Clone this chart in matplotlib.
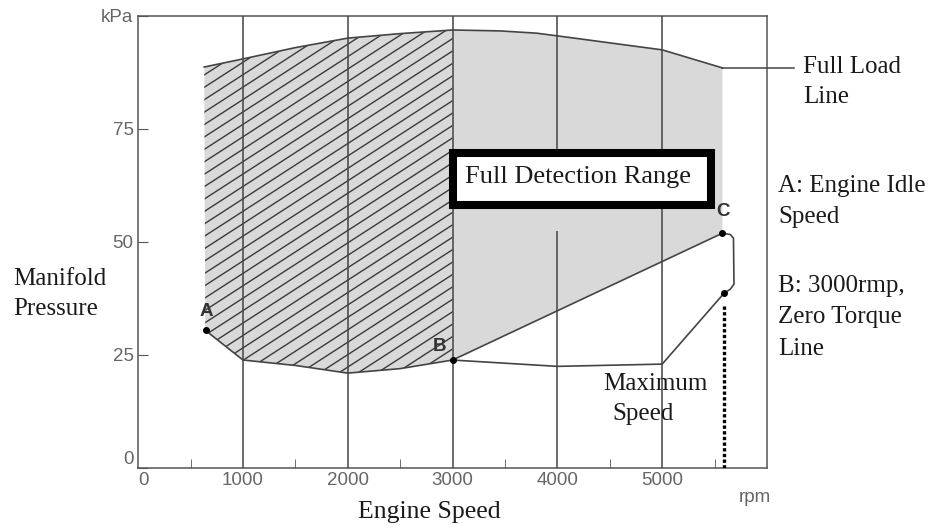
import numpy as np
import matplotlib.pyplot as plt
from matplotlib.patches import Polygon, Rectangle

# Full load line (rpm, kPa)
full_load_rpm = [630, 1000, 1500, 2000, 2500, 3000, 3450, 3800, 4000, 5000, 5575]
full_load_kpa = [88.7, 90.5, 93.0, 95.1, 96.1, 96.9, 96.7, 96.2, 95.6, 92.5, 88.5]

# lower edge of hatched region (idle A -> B)
idle_rpm = [640, 1000, 1500, 2000, 2500, 3000]
idle_kpa = [30.4, 23.8, 22.6, 20.9, 21.9, 23.8]

# zero torque line from B to max speed
zero_rpm = [3000, 4000, 5000, 5590]
zero_kpa = [23.8, 22.4, 22.9, 38.6]

# B -> C edge of the detection range
bc_rpm = [3000, 5575]
bc_kpa = [23.8, 51.9]

# bracket from C down to the max speed point
bracket_rpm = [5575, 5650, 5680, 5685, 5650, 5590]
bracket_kpa = [51.9, 51.6, 50.8, 40.6, 39.5, 38.6]

point_names = ['A', 'B', 'C']
point_rpm = [650, 3000, 5575]
point_kpa = [30.4, 23.8, 51.9]
max_speed_rpm = 5590
max_speed_kpa = 38.6

grid_rpm = [1000, 2000, 3000, 5000]
x_ticks = [0, 1000, 2000, 3000, 4000, 5000]
x_minor = [500, 1500, 2500, 3500, 4500, 5500]
y_ticks = [0, 25, 50, 75, 100]
y_labels = ['0', '25', '50', '75', 'kPa']

W, H = 933, 529
serif = ['Liberation Serif', 'DejaVu Serif']
sans = ['Liberation Sans', 'DejaVu Sans']
line_col = '#444444'
fill_col = '#d9d9d9'

fig = plt.figure(figsize=(W / 100, H / 100), dpi=100)
ax = fig.add_axes([138.2 / W, 1 - 467.5 / H, (767 - 138.2) / W, (467.5 - 16) / H])
ax.set_xlim(0, 6000)
ax.set_ylim(0, 100)

# shaded regions
i3 = full_load_rpm.index(3000)
hatch_xy = list(zip(full_load_rpm[:i3 + 1], full_load_kpa[:i3 + 1])) + \
    list(zip(idle_rpm[::-1], idle_kpa[::-1]))
hatch_poly = Polygon(hatch_xy, closed=True, facecolor=fill_col, edgecolor='none', zorder=1)
ax.add_patch(hatch_poly)

gray_xy = list(zip(full_load_rpm[i3:], full_load_kpa[i3:])) + \
    list(zip(bc_rpm[::-1], bc_kpa[::-1]))
ax.add_patch(Polygon(gray_xy, closed=True, facecolor=fill_col, edgecolor='none', zorder=1))

# diagonal hatch lines clipped to the idle region
for y0 in np.arange(-60, 100, 2.75):
    ln, = ax.plot([0, 3200], [y0, y0 + 0.015 * 3200], color='#3a3a3a', lw=1.0, zorder=2)
    ln.set_clip_path(hatch_poly)

# vertical grid lines
for x in grid_rpm:
    ax.axvline(x, color=line_col, lw=1.1, zorder=3)
ax.vlines(4000, 0, 52.3, color=line_col, lw=1.1, zorder=3)
ax.vlines(4000, 70, 100, color=line_col, lw=1.1, zorder=3)

# curves
ax.plot(full_load_rpm, full_load_kpa, color=line_col, lw=1.2, zorder=4)
ax.plot([full_load_rpm[-1], 6254], [full_load_kpa[-1]] * 2, color=line_col, lw=1.1,
        zorder=4, clip_on=False)
ax.plot(idle_rpm, idle_kpa, color=line_col, lw=1.2, zorder=4)
ax.plot(zero_rpm, zero_kpa, color=line_col, lw=1.2, zorder=4)
ax.plot(bc_rpm, bc_kpa, color=line_col, lw=1.2, zorder=4)
ax.plot(bracket_rpm, bracket_kpa, color=line_col, lw=1.2, zorder=4)
ax.plot([max_speed_rpm, max_speed_rpm], [0, 36.2], color='black', lw=2.4,
        linestyle=(0, (1, 0.7)), zorder=4)

ax.plot(point_rpm + [max_speed_rpm], point_kpa + [max_speed_kpa], 'o', color='black',
        markersize=4, zorder=5)
offsets = [(0, 19), (-13, 14), (1, 22)]
for name, x, y, off in zip(point_names, point_rpm, point_kpa, offsets):
    ax.annotate(name, (x, y), xytext=off, textcoords='offset pixels', ha='center',
                va='center', fontsize=13.5, family=sans, fontweight='bold',
                color='#333333', zorder=6)

# detection range box
ax.add_patch(Rectangle((3000, 58.25), 2470, 11.45, facecolor='white', edgecolor='black',
                       lw=5.8, joinstyle='miter', zorder=6))

# axes styling
for s in ax.spines.values():
    s.set_color('#555555')
    s.set_linewidth(1.1)
ax.set_xticks(x_ticks)
ax.set_xticklabels([str(v) for v in x_ticks])
ax.set_xticks(x_minor, minor=True)
ax.set_yticks(y_ticks)
ax.set_yticklabels(y_labels)
ax.tick_params(axis='x', which='major', length=0, pad=3)
ax.tick_params(axis='x', which='minor', direction='in', length=6.5, color='#555555')
ax.tick_params(axis='y', direction='in', length=7, color='#555555', pad=3.3)
ax.tick_params(labelsize=13.5, labelcolor='#666666')
for lab in ax.get_xticklabels() + ax.get_yticklabels():
    lab.set_family(sans)
ax.get_xticklabels()[0].set_ha('left')
ax.get_yticklabels()[0].set_va('bottom')


def ftext(x, y, s, **kw):
    kw.setdefault('ha', 'left')
    kw.setdefault('va', 'baseline')
    kw.setdefault('fontsize', 18)
    kw.setdefault('family', serif)
    kw.setdefault('color', '#1a1a1a')
    fig.text(x / W, 1 - y / H, s, **kw)


ftext(803, 73, 'Full Load')
ftext(803, 103, 'Line')
ftext(778, 192, 'A: Engine Idle')
ftext(778, 223, 'Speed')
ftext(778, 292, 'B: 3000rmp,')
ftext(778, 323, 'Zero Torque')
ftext(778, 355, 'Line')
ftext(13, 285, 'Manifold')
ftext(13, 315, 'Pressure')
ftext(358, 518, 'Engine Speed', fontsize=18.5)
ftext(603, 390, 'Maximum')
ftext(612, 420, 'Speed')
ftext(465, 183, 'Full Detection Range', fontsize=19, zorder=10)
ftext(755, 498, 'rpm', ha='center', va='center', fontsize=13.5, family=sans,
      color='#666666')

fig.savefig('out.png', dpi=100)
